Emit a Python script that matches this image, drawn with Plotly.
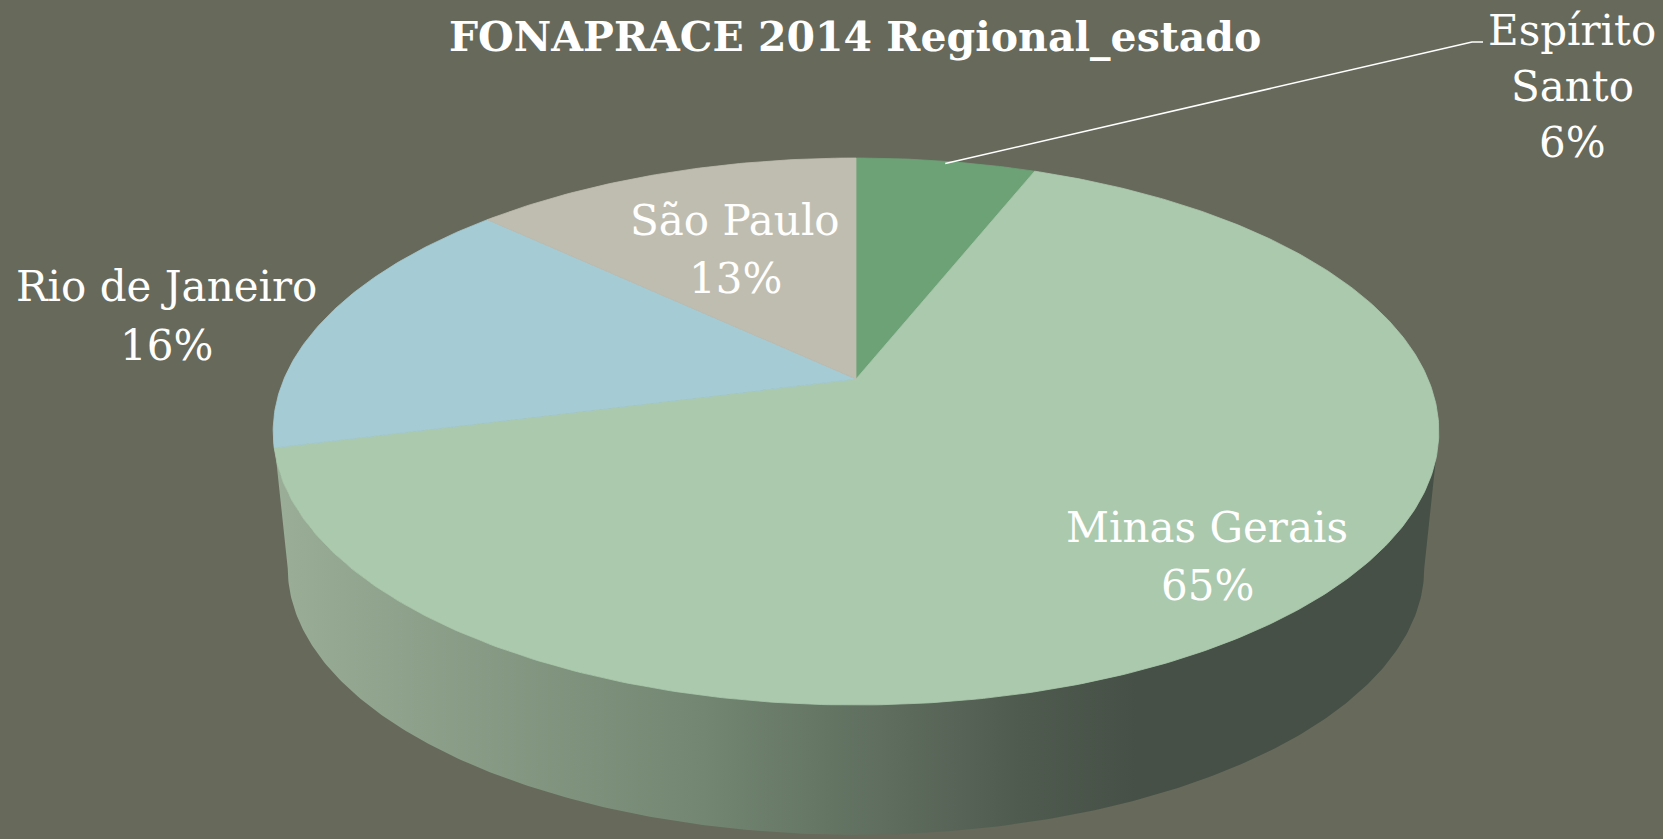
import numpy as np
import plotly.graph_objects as go

# ---------------- data ----------------
states = ["Espírito Santo", "Minas Gerais", "Rio de Janeiro", "São Paulo"]
shares = [6, 65, 16, 13]
label_lines = [["Espírito", "Santo"], ["Minas Gerais"], ["Rio de Janeiro"], ["São Paulo"]]
slice_colors = ["#6ca276", "#abc9ad", "#a5cbd4", "#bfbdb0"]
title_text = "FONAPRACE 2014 Regional_estado"

# ---------------- geometry (3D pie projection) ----------------
W, H = 1663, 839
CX, CY = 856, 379          # apex of the pie on screen
A, B, K = 572, 263.4, -0.192  # radii and perspective factor
DEPTH = 138
BOTTOM_SCALE = 0.975
BG = "#67695b"
FONT = "DejaVu Serif"


def proj(theta_deg, scale=1.0, dy=0.0):
    t = np.radians(theta_deg)
    u = np.sin(t)
    v = -np.cos(t)
    w = 1 + K * v
    return CX + A * scale * u / w, CY + B * scale * v / w + dy


fig = go.Figure()

# side wall (visible front part)
left_t = 180 + np.degrees(np.arccos(-K))   # leftmost silhouette angle
right_t = 180 - np.degrees(np.arccos(-K))
t_top = np.linspace(right_t, left_t, 300)
xt, yt = proj(t_top)
xb, yb = proj(t_top[::-1], scale=BOTTOM_SCALE, dy=DEPTH)
side_x = np.concatenate([xt, xb])
side_y = np.concatenate([yt, yb])
fig.add_trace(go.Scatter(
    x=side_x, y=side_y, mode="lines", fill="toself",
    line=dict(width=0, color="rgba(0,0,0,0)"),
    fillgradient=dict(type="horizontal",
                      colorscale=[[0, "#9aae98"], [0.05, "#94a892"], [0.37, "#728671"],
                                  [0.64, "#505b50"], [0.74, "#465046"], [1, "#465046"]]),
    hoverinfo="skip", showlegend=False))

# top-face slices
total = sum(shares)
cum = 0.0
mids = []
for name, val, col in zip(states, shares, slice_colors):
    a0 = cum / total * 360
    a1 = (cum + val) / total * 360
    cum += val
    ts = np.linspace(a0, a1, max(int(val * 6), 20))
    ax, ay = proj(ts)
    xs = np.concatenate([[CX], ax, [CX]])
    ys = np.concatenate([[CY], ay, [CY]])
    fig.add_trace(go.Scatter(
        x=xs, y=ys, mode="lines", fill="toself", fillcolor=col,
        line=dict(width=0.8, color=col), name=name,
        hoverinfo="name", showlegend=False))
    mids.append((a0 + a1) / 2)

# leader line for Espírito Santo
lx, ly = proj(mids[0], scale=0.99)
fig.add_trace(go.Scatter(
    x=[lx, 1472, 1483], y=[ly, 42, 42], mode="lines",
    line=dict(color="white", width=1.5), hoverinfo="skip", showlegend=False))

# labels
label_pos = {
    "Espírito Santo": (1572, [30, 86, 142]),
    "Minas Gerais": (1207, [527, 585]),
    "Rio de Janeiro": (166, [286, 345]),
    "São Paulo": (735, [220, 278]),
}
annotations = []
for name, val, lines in zip(states, shares, label_lines):
    x, ys = label_pos[name]
    texts = lines + [f"{val}%"]
    for t, y in zip(texts, ys):
        annotations.append(dict(x=x, y=y, xref="x", yref="y", text=t, showarrow=False,
                                font=dict(family=FONT, size=42, color="white"),
                                xanchor="center", yanchor="middle"))

annotations.append(dict(x=855, y=37, xref="x", yref="y",
                        text=f"<b>{title_text}</b>", showarrow=False,
                        font=dict(family=FONT, size=41, color="white"),
                        xanchor="center", yanchor="middle"))

fig.update_layout(
    width=W, height=H,
    margin=dict(l=0, r=0, t=0, b=0),
    paper_bgcolor=BG, plot_bgcolor=BG,
    xaxis=dict(range=[0, W], visible=False, fixedrange=True),
    yaxis=dict(range=[H, 0], visible=False, fixedrange=True),
    annotations=annotations,
    showlegend=False,
)

fig.write_html("out.html", config={"displayModeBar": False},
               post_script="document.body.style.margin='0';document.body.style.overflow='hidden';")
